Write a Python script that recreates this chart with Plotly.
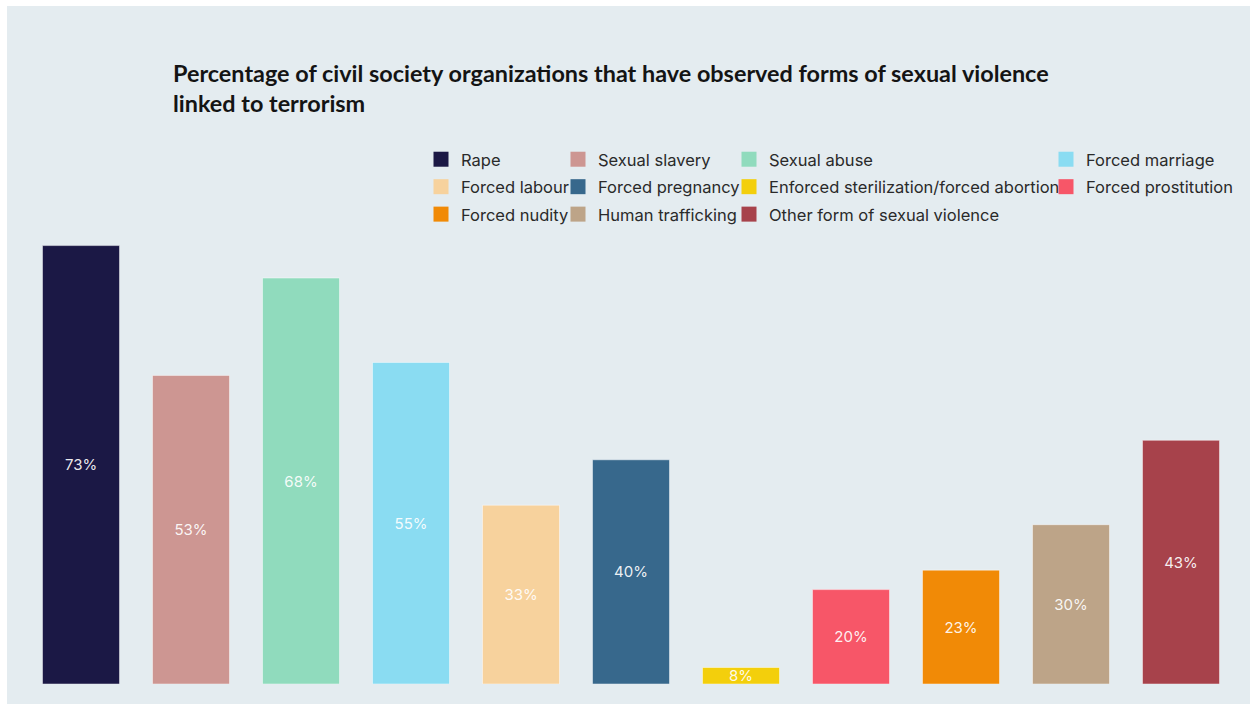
import plotly.graph_objects as go

# Forms of sexual violence and the share of organizations that observed them
categories = [
    "Rape",
    "Sexual slavery",
    "Sexual abuse",
    "Forced marriage",
    "Forced labour",
    "Forced pregnancy",
    "Enforced sterilization/forced abortion",
    "Forced prostitution",
    "Forced nudity",
    "Human trafficking",
    "Other form of sexual violence",
]
percentages = [73, 53, 68, 55, 33, 40, 8, 20, 23, 30, 43]
bar_colors = [
    "#1b1845", "#cd9692", "#90dbbd", "#8adcf2", "#f7d29d", "#37688c",
    "#f3cf0c", "#f75668", "#f18a06", "#bda488", "#a7424b",
]

TITLE = ("Percentage of civil society organizations that have observed forms of sexual violence"
         "<br>linked to terrorism")

W, H = 1250, 704
M_L, M_R, M_T, M_B = 26, 14, 230, 20
AXIS_FLOOR, AXIS_TOP = 5.46, 75.4
PANEL_BG = "#e4ecf0"

plot_w = W - M_L - M_R
plot_h = H - M_T - M_B

fig = go.Figure()

for i, (cat, val, col) in enumerate(zip(categories, percentages, bar_colors)):
    legend_id = "legend" if i % 4 == 0 else f"legend{i % 4 + 1}"
    # the bar itself
    fig.add_trace(go.Bar(
        x=[cat], y=[val - AXIS_FLOOR], base=AXIS_FLOOR,
        name=cat, legendgroup=cat, showlegend=False,
        marker=dict(color=col, line=dict(color="rgba(255,255,255,0.45)", width=1)),
        text=[f"{val}%"], textposition="inside", insidetextanchor="middle",
        textangle=0, textfont=dict(family="Inter", size=15, color="rgba(255,255,255,0.92)"),
        hovertemplate=f"{cat}: {val}%<extra></extra>",
    ))
    # legend swatch (square marker, larger than the default bar swatch)
    fig.add_trace(go.Scatter(
        x=[None], y=[None], mode="markers", name=cat,
        legendgroup=cat, legend=legend_id, showlegend=True,
        marker=dict(symbol="square", size=15, color=col, line=dict(width=0)),
        hoverinfo="skip",
    ))

# Four legend columns, each placed by the left edge of its text (pixels)
col_text_x = [461, 598, 769, 1086]
legend_top_px = 142
legend_common = dict(
    orientation="v", xref="paper", yref="paper",
    xanchor="left", yanchor="top", y=(H - M_B - legend_top_px) / plot_h,
    bgcolor="rgba(0,0,0,0)", borderwidth=0, tracegroupgap=3,
    itemsizing="trace",
    font=dict(family="Inter", size=16.5, color="#2a2a2a"),
)
legends = {}
for k, tx in enumerate(col_text_x):
    key = "legend" if k == 0 else f"legend{k + 1}"
    legends[key] = dict(legend_common, x=(tx - 40 - M_L) / plot_w)

fig.update_layout(
    width=W, height=H,
    margin=dict(l=M_L, r=M_R, t=M_T, b=M_B, autoexpand=False),
    paper_bgcolor="white",
    plot_bgcolor="rgba(0,0,0,0)",
    barmode="overlay",
    bargap=0.3,
    showlegend=True,
    uniformtext=dict(minsize=15, mode="show"),
    title=dict(
        text=TITLE, xref="container", yref="container",
        x=173 / W, xanchor="left", y=1 - 82 / H, yanchor="top",
        font=dict(family="Lato", size=23.4, color="#141414", weight=700),
    ),
    xaxis=dict(type="category", categoryorder="array", categoryarray=categories,
               showticklabels=False, showgrid=False, zeroline=False, showline=False,
               ticks=""),
    yaxis=dict(range=[AXIS_FLOOR, AXIS_TOP], showticklabels=False, showgrid=False,
               zeroline=False, showline=False, ticks=""),
    shapes=[dict(
        type="rect", xref="paper", yref="paper", layer="below",
        x0=(7 - M_L) / plot_w, x1=1 + (M_R + 2) / plot_w,
        y0=-(M_B + 2) / plot_h, y1=1 + (M_T - 6) / plot_h,
        fillcolor=PANEL_BG, line=dict(width=0),
    )],
    **legends,
)

fig.write_html("out.html")
